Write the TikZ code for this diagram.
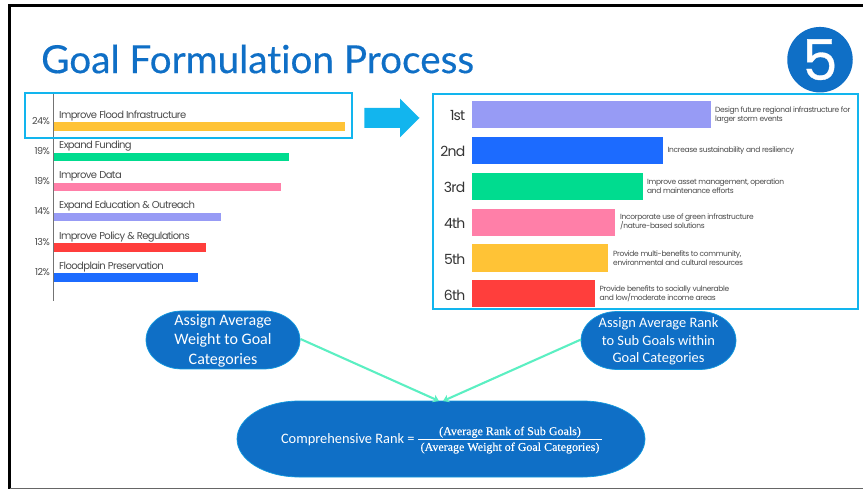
\documentclass[tikz,border=0pt]{standalone}
\usepackage{fontspec}
\setmainfont{Lato}
\newfontfamily\titlefont[FakeBold=0.35,Ligatures=NoCommon]{Lato}
\newfontfamily\ovalfont{Carlito}
\newfontfamily\mathserif[FakeBold=0.25]{Liberation Serif}
\newfontfamily\chartfont[LetterSpace=-5.8]{Poppins}
\newfontfamily\subfont[LetterSpace=-4.6]{Poppins}
\newfontfamily\badgefont[FakeBold=0.6]{Poppins}
\definecolor{slideblue}{HTML}{0F6FC6}
\definecolor{hilite}{HTML}{12B5EE}
\definecolor{cyellow}{HTML}{FFC336}
\definecolor{cgreen}{HTML}{00DC8F}
\definecolor{cpink}{HTML}{FF7FA8}
\definecolor{cpurple}{HTML}{979BF5}
\definecolor{cred}{HTML}{FF3E3C}
\definecolor{cblue}{HTML}{1C6BFF}
\definecolor{mint}{HTML}{5BEFC2}
\definecolor{ctext}{HTML}{4A4A4A}
\usetikzlibrary{arrows.meta}
\newcommand\mainfontrank{\chartfont\fontsize{14}{16}\selectfont}
\tikzset{
  x=1pt,y=-1pt,
  barbox/.style={anchor=north west,inner sep=0pt,outer sep=0pt,minimum height=#1},
  lbar/.style={barbox=8.5pt},
  rbar/.style={barbox=27.5pt},
  pct/.style={anchor=east,inner sep=0pt,text=ctext,font=\chartfont\fontsize{9.6}{11}\selectfont},
  cat/.style={anchor=west,inner sep=0pt,text=ctext,font=\chartfont\fontsize{10}{12}\selectfont},
  rank/.style={anchor=east,inner sep=0pt,text=ctext!70!black,font=\mainfontrank},
  sub/.style={anchor=west,inner sep=0pt,align=left,text=ctext,font=\subfont\fontsize{7.5}{9.2}\selectfont},
  hibox/.style={draw=hilite,line width=1.9pt,fill=none,anchor=north west,inner sep=0pt,outer sep=0pt},
  ovalfill/.style={draw=hilite!60!slideblue,line width=.7pt,fill=slideblue},
  ovalnode/.style={inner sep=0pt,outer sep=0pt,text=white,align=center},
  link/.style={draw=mint,line width=2.1pt,-{Stealth[length=6pt,width=8pt]}},
}
\newcommand\ovalpath[5]{% x0 y0 x1 y1 rx
  \pgfmathsetmacro\ovh{(#4-#2)/2}
  \path[ovalfill] (#1+#5,#2) -- (#3-#5,#2) arc[start angle=-90,end angle=90,x radius=#5,y radius=\ovh]
    -- (#1+#5,#4) arc[start angle=90,end angle=270,x radius=#5,y radius=\ovh] -- cycle;
}
\begin{document}
\begin{tikzpicture}
\useasboundingbox (0,0) rectangle (863,489);
% slide frame
\draw[black,line width=2.4pt] (9.5,489) -- (9.5,5.5) -- (863,5.5);
\draw[black!60,line width=1.4pt] (9.5,488.3) -- (863,488.3);
% title
\node[anchor=west,inner sep=0pt,text=slideblue,font=\titlefont\fontsize{38.7}{42}\selectfont] (title) at (41,59) {Goal Formulation Process};
% badge
\node[circle,fill=slideblue,minimum size=65.5pt,inner sep=0pt,text=white,font=\badgefont\fontsize{56}{56}\selectfont] (badge) at (820,59.7) {5};
% left chart
\node[lbar,fill=cyellow,minimum width=291pt] (l1) at (54,122.5) {};
\node[lbar,fill=cgreen,minimum width=235pt] (l2) at (54,152.7) {};
\node[lbar,fill=cpink,minimum width=227pt] (l3) at (54,183) {};
\node[lbar,fill=cpurple,minimum width=167pt] (l4) at (54,213) {};
\node[lbar,fill=cred,minimum width=152pt] (l5) at (54,243.2) {};
\node[lbar,fill=cblue,minimum width=144pt] (l6) at (54,273.3) {};
\coordinate (axtop) at (53.5,92);
\coordinate (axbot) at (53.5,301);
\draw[black!55,line width=1.4pt] (axtop) -- (axbot);
\node[cat] at (59,115.5) {Improve Flood Infrastructure};
\node[cat] at (59,146) {Expand Funding};
\node[cat] at (59,176) {Improve Data};
\node[cat] at (59,206) {Expand Education \& Outreach};
\node[cat] at (59,236.8) {Improve Policy \& Regulations};
\node[cat] at (59,266.5) {Floodplain Preservation};
\node[pct] at (50,121) {24\%};
\node[pct] at (50,151) {19\%};
\node[pct] at (50,181.5) {19\%};
\node[pct] at (50,211.5) {14\%};
\node[pct] at (50,242) {13\%};
\node[pct] at (50,272) {12\%};
\node[hibox,minimum width=327pt,minimum height=45.3pt] (lbox) at (25.3,93) {};
% big arrow
\fill[hilite] (364.3,108) -- (400,108) -- (400,98.7) -- (419.5,118) -- (400,137.3) -- (400,128) -- (364.3,128) -- cycle;
% right chart
\node[rbar,fill=cpurple,minimum width=239pt] (r1) at (472,101) {};
\node[rbar,fill=cblue,minimum width=191pt] (r2) at (472,136.7) {};
\node[rbar,fill=cgreen,minimum width=170.5pt] (r3) at (472,172.7) {};
\node[rbar,fill=cpink,minimum width=143pt] (r4) at (472,208.6) {};
\node[rbar,fill=cyellow,minimum width=136pt] (r5) at (472,244.4) {};
\node[rbar,fill=cred,minimum width=123pt] (r6) at (472,280) {};
\node[rank] at (465.5,116) {1st};
\node[rank] at (465.5,151.7) {2nd};
\node[rank] at (465.5,187.7) {3rd};
\node[rank] at (465.5,223.7) {4th};
\node[rank] at (465.5,259.3) {5th};
\node[rank] at (465.5,295) {6th};
\node[sub] at (715,115.5) {Design future regional infrastructure for\\larger storm events};
\node[sub] at (667.5,151) {Increase sustainability and resiliency};
\node[sub] at (647,186.5) {Improve asset management, operation\\and maintenance efforts};
\node[sub] at (620,222) {Incorporate use of green infrastructure\\/nature-based solutions};
\node[sub] at (613,258) {Provide multi-benefits to community,\\environmental and cultural resources};
\node[sub] at (599.5,294) {Provide benefits to socially vulnerable\\and low/moderate income areas};
\node[hibox,minimum width=424.3pt,minimum height=215.6pt] (rbox) at (433.4,93.7) {};
% ovals
\ovalpath{146}{311}{300}{369}{36}
\ovalpath{581}{311.5}{736}{369.5}{36}
\ovalpath{237}{401}{645}{477}{62}
\node[ovalnode,font=\ovalfont\fontsize{16}{19.5}\selectfont] (w) at (223,340.5) {Assign Average\\Weight to Goal\\Categories};
\node[ovalnode,font=\ovalfont\fontsize{14.4}{17.6}\selectfont] (a) at (658.5,341.5) {Assign Average Rank\\to Sub Goals within\\Goal Categories};
\node[ovalnode,anchor=west,font=\ovalfont\fontsize{14.4}{16}\selectfont] (c) at (281,440) {Comprehensive Rank =};
\node[ovalnode,font=\mathserif\fontsize{12}{14}\selectfont] (num) at (510,432.2) {(Average Rank of Sub Goals)};
\node[ovalnode,font=\mathserif\fontsize{12}{14}\selectfont] (den) at (510,448) {(Average Weight of Goal Categories)};
\coordinate (barl) at (418,439.3);
\coordinate (barr) at (602,439.3);
\draw[white,line width=.8pt] (barl) -- (barr);
\coordinate (wout) at (300.5,339);
\coordinate (aout) at (581,339.5);
\coordinate (tipw) at (439,401);
\coordinate (tipa) at (443,401);
\draw[link] (wout) -- (tipw);
\draw[link] (aout) -- (tipa);
\end{tikzpicture}
\end{document}
